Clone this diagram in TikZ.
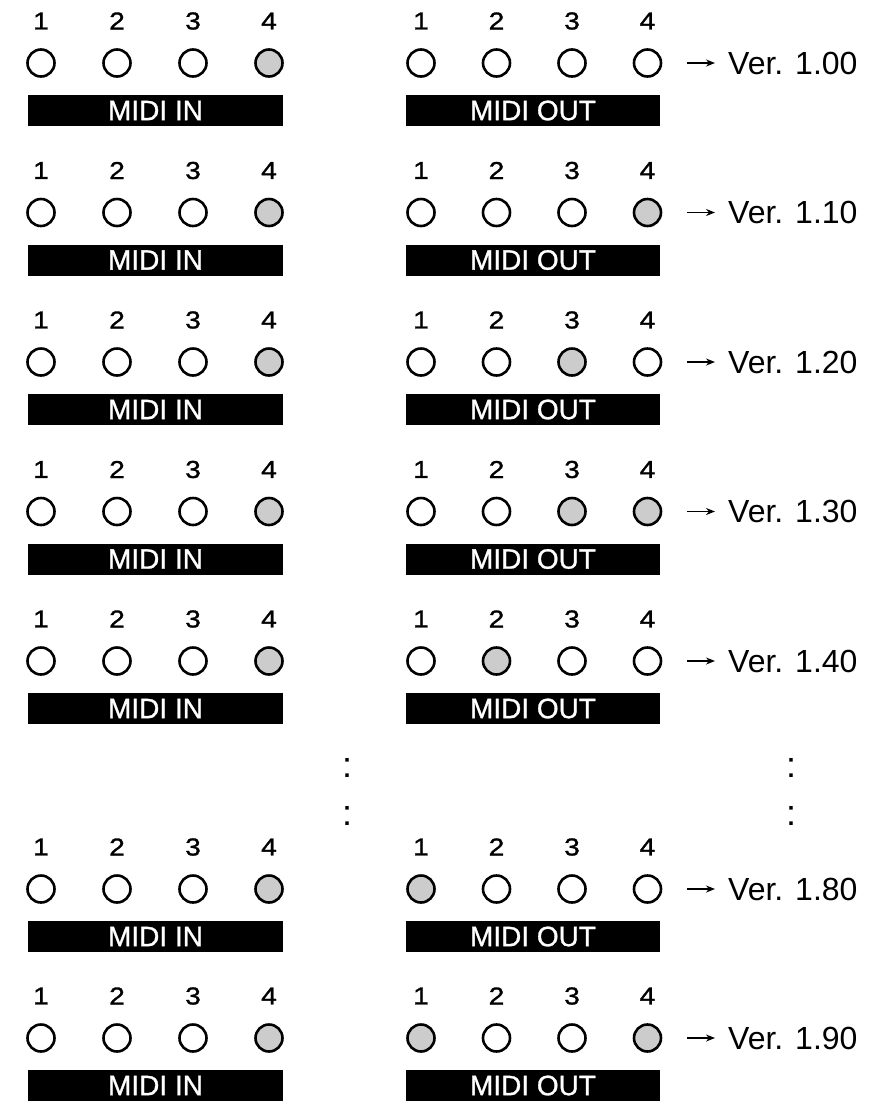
\documentclass[tikz,border=0pt]{standalone}
\usepackage{fontspec}
\setmainfont{Liberation Sans}
\newfontfamily\heavyfont[FakeBold=1]{Liberation Sans}
\newfontfamily\widefont[FakeBold=1.2, FakeStretch=1.15]{Liberation Sans}
\usetikzlibrary{arrows.meta}
\colorlet{led0}{white}
\colorlet{led1}{black!20}

\begin{document}
\begin{tikzpicture}[x=1pt, y=-1pt,
    led/.style={draw, circle, line width=2.6pt, minimum size=27pt, inner sep=0pt},
    num/.style={inner sep=0pt, font=\widefont\fontsize{24.5}{28}\selectfont},
    bar/.style={fill=black, text=white, inner sep=0pt, minimum width=255pt, minimum height=31pt, font=\heavyfont\fontsize{28}{32}\selectfont},
    ver/.style={anchor=west, inner sep=0pt, font=\fontsize{32}{38}\selectfont},
    dots/.style={inner sep=0pt, font=\fontsize{36}{40}\selectfont},
    arr/.style={-{Stealth[length=9pt, width=7pt]}, line width=1.4pt}
  ]
  \useasboundingbox (0,0) rectangle (881,1104);
  % one row per firmware version: MIDI OUT lamps 1-4
  \foreach \r/\y/\v/\a/\b/\c/\d in {1/63/1.00/0/0/0/0, 2/212.5/1.10/0/0/0/1,
      3/362/1.20/0/0/1/0, 4/511.5/1.30/0/0/1/1, 5/661/1.40/0/1/0/0,
      6/889/1.80/1/0/0/0, 7/1038/1.90/1/0/0/1} {
    \foreach \i/\f in {1/0, 2/0, 3/0, 4/1} {
      \node[num] (innum-\r-\i) at (-35+76*\i, \y-42) {\i};
      \node[led, fill=led\f] (in-\r-\i) at (-35+76*\i, \y) {};
    }
    \foreach \i/\f in {1/\a, 2/\b, 3/\c, 4/\d} {
      \node[num] (outnum-\r-\i) at (345.5+75.5*\i, \y-42) {\i};
      \node[led, fill=led\f] (out-\r-\i) at (345.5+75.5*\i, \y) {};
    }
    \node[bar] (inbar-\r) at (155.5, \y+47.5) {MIDI IN};
    \node[bar, minimum width=254pt] (outbar-\r) at (533, \y+47.5) {MIDI OUT};
    \node[ver] (ver-\r) at (728, \y) {Ver. \v};
    \draw[arr, shorten <=25pt, shorten >=13pt] (out-\r-4) -- (ver-\r);
  }
  % skipped versions
  \node[dots] (dots-1) at (347, 768) {:};
  \node[dots] (dots-2) at (347, 816) {:};
  \node[dots] (dots-3) at (791, 768) {:};
  \node[dots] (dots-4) at (791, 816) {:};
\end{tikzpicture}
\end{document}
